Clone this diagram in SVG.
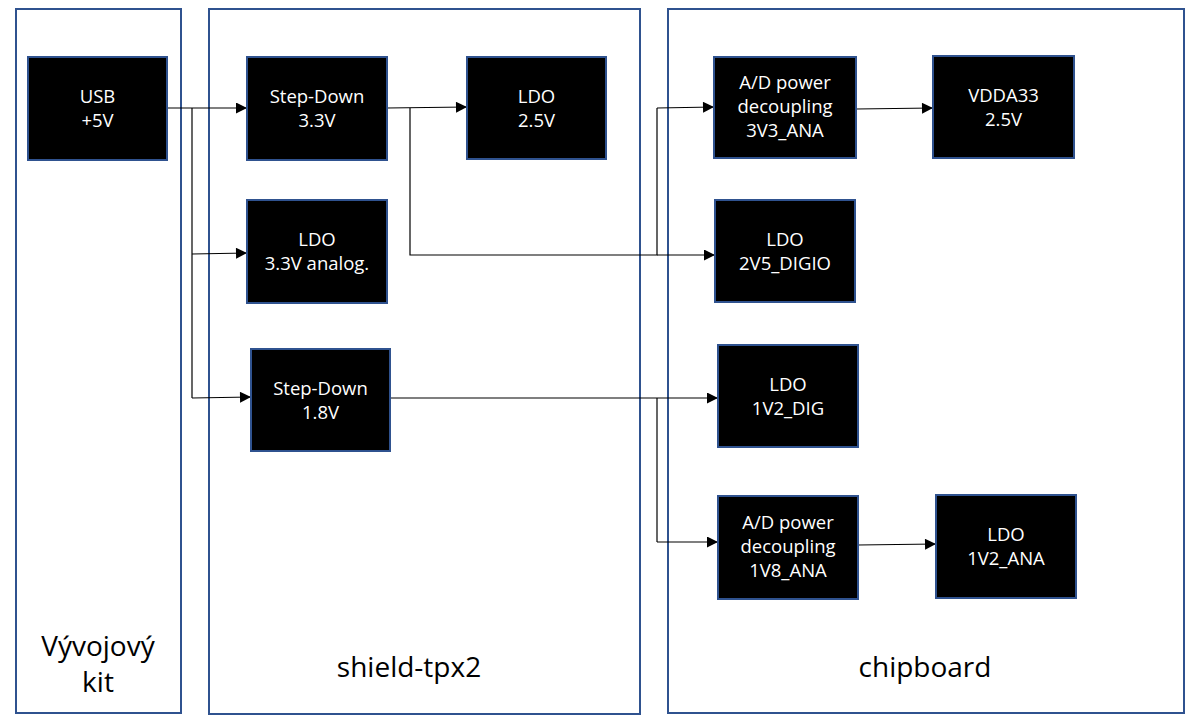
<svg xmlns="http://www.w3.org/2000/svg" width="1200" height="726" viewBox="0 0 1200 726">
<style>
.cont{fill:#ffffff;stroke:#2F528F;stroke-width:2}
.box{fill:#000000;stroke:#2F528F;stroke-width:2}
.bt{fill:#ffffff;font-family:"Open Sans","Noto Sans",sans-serif;font-size:18.5px;text-anchor:middle}
.big{fill:#000000;font-family:"Open Sans","Noto Sans",sans-serif;font-size:28px;text-anchor:middle}
.wire{fill:none;stroke:#000000;stroke-width:1.2}
.arr{fill:none;stroke:#000000;stroke-width:1.2;marker-end:url(#ah)}
</style>
<defs>
<marker id="ah" viewBox="0 0 10 10" refX="10" refY="5" markerUnits="userSpaceOnUse" markerWidth="12" markerHeight="11" orient="auto">
<path d="M0,0 L10,5 L0,10 Z" fill="#000000"/>
</marker>
</defs>
<rect width="1200" height="726" fill="#ffffff"/>
<g id="kit">
<rect class="cont" x="16" y="9" width="165" height="704"/>
<text class="big" x="98" y="656">Vývojový</text>
<text class="big" x="98" y="692">kit</text>
</g>
<g id="shield">
<rect class="cont" x="209" y="9" width="431" height="705"/>
<text class="big" x="409" y="677">shield-tpx2</text>
</g>
<g id="chipboard">
<rect class="cont" x="668" y="9" width="516" height="704"/>
<text class="big" x="925" y="677">chipboard</text>
</g>
<g id="connectors">
<path class="arr" d="M167,108 L247,108"/>
<path class="wire" d="M192,108 L192,398"/>
<path class="arr" d="M192,254 L247,253"/>
<path class="arr" d="M192,398 L251,397"/>
<path class="arr" d="M387,108 L467,107"/>
<path class="wire" d="M410,108 L410,255 L657,255 L657,108"/>
<path class="arr" d="M657,255 L715,255"/>
<path class="arr" d="M657,108 L714,107"/>
<path class="arr" d="M856,109 L933,108"/>
<path class="arr" d="M390,398 L718,398"/>
<path class="wire" d="M657,398 L657,542"/>
<path class="arr" d="M657,542 L718,542"/>
<path class="arr" d="M858,545 L936,544"/>
</g>
<g id="usb">
<rect class="box" x="28" y="57" width="139" height="103"/>
<text class="bt" x="97.5" y="103">USB</text>
<text class="bt" x="97.5" y="127">+5V</text>
</g>
<g id="stepdown33">
<rect class="box" x="247" y="57" width="140" height="103"/>
<text class="bt" x="317" y="103">Step-Down</text>
<text class="bt" x="317" y="127">3.3V</text>
</g>
<g id="ldo25">
<rect class="box" x="467" y="57" width="139" height="102"/>
<text class="bt" x="536.5" y="103">LDO</text>
<text class="bt" x="536.5" y="127">2.5V</text>
</g>
<g id="ldo33analog">
<rect class="box" x="247" y="200" width="140" height="103"/>
<text class="bt" x="317" y="246">LDO</text>
<text class="bt" x="317" y="270">3.3V analog.</text>
</g>
<g id="stepdown18">
<rect class="box" x="251" y="349" width="139" height="102"/>
<text class="bt" x="320.5" y="395">Step-Down</text>
<text class="bt" x="320.5" y="419">1.8V</text>
</g>
<g id="ad3v3ana">
<rect class="box" x="714" y="57" width="142" height="101"/>
<text class="bt" x="785" y="89">A/D power</text>
<text class="bt" x="785" y="113">decoupling</text>
<text class="bt" x="785" y="137">3V3_ANA</text>
</g>
<g id="vdda33">
<rect class="box" x="933" y="56" width="141" height="102"/>
<text class="bt" x="1003.5" y="102">VDDA33</text>
<text class="bt" x="1003.5" y="126">2.5V</text>
</g>
<g id="ldo2v5digio">
<rect class="box" x="715" y="200" width="140" height="102"/>
<text class="bt" x="785" y="246">LDO</text>
<text class="bt" x="785" y="270">2V5_DIGIO</text>
</g>
<g id="ldo1v2dig">
<rect class="box" x="718" y="345" width="140" height="102"/>
<text class="bt" x="788" y="391">LDO</text>
<text class="bt" x="788" y="415">1V2_DIG</text>
</g>
<g id="ad1v8ana">
<rect class="box" x="718" y="496" width="140" height="103"/>
<text class="bt" x="788" y="529">A/D power</text>
<text class="bt" x="788" y="553">decoupling</text>
<text class="bt" x="788" y="577">1V8_ANA</text>
</g>
<g id="ldo1v2ana">
<rect class="box" x="936" y="495" width="140" height="103"/>
<text class="bt" x="1006" y="541">LDO</text>
<text class="bt" x="1006" y="565">1V2_ANA</text>
</g>
</svg>
